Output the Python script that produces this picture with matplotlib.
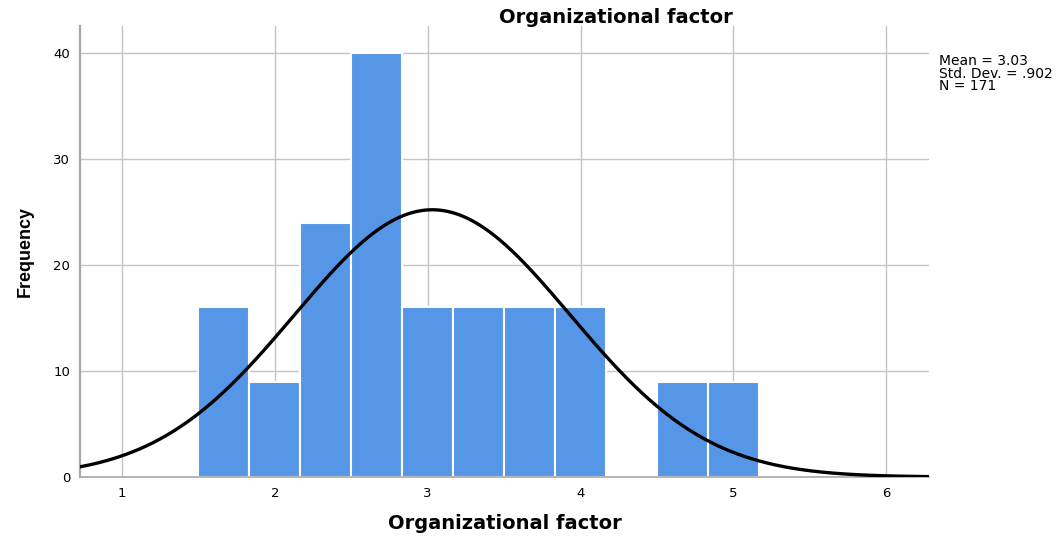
import numpy as np
import matplotlib.pyplot as plt

# Histogram of the organizational factor scores with a fitted normal curve
bin_edges = [1.5, 1.8333, 2.1667, 2.5, 2.8333, 3.1667, 3.5, 3.8333, 4.1667, 4.5, 4.8333, 5.1667]
counts = [16, 9, 24, 40, 16, 16, 16, 16, 0, 9, 9]
mean = 3.03
std_dev = 0.902
n = 171

plt.rcParams['font.family'] = ['DejaVu Sans']

fig = plt.figure(figsize=(10.57, 5.37), dpi=100)
ax = fig.add_axes([0.0757, 0.1117, 0.8032, 0.84])

edges = np.array(bin_edges)
widths = np.diff(edges)
ax.bar(edges[:-1], counts, width=widths, align='edge', color='#5596e6',
       edgecolor='white', linewidth=1.5, zorder=2)

# normal curve scaled to counts per bin
bw = widths.mean()
xs = np.linspace(0.725, 6.28, 400)
ys = n * bw * np.exp(-0.5 * ((xs - mean) / std_dev) ** 2) / (std_dev * np.sqrt(2 * np.pi))
ax.plot(xs, ys, color='black', linewidth=2.4, zorder=3)

ax.set_xlim(0.725, 6.28)
ax.set_ylim(0, 42.55)
ax.set_xticks([1, 2, 3, 4, 5, 6])
ax.set_yticks([0, 10, 20, 30, 40])
ax.tick_params(length=0, labelsize=9.5, pad=7)
ax.grid(True, color='#c4c4c4', linewidth=1.0, zorder=0)
ax.set_axisbelow(True)

for s in ['top', 'right']:
    ax.spines[s].set_visible(False)
ax.spines['left'].set_color('#a8a8a8')
ax.spines['left'].set_linewidth(1.6)
ax.spines['bottom'].set_color('#a8a8a8')
ax.spines['bottom'].set_linewidth(1.2)

ax.set_xlabel('Organizational factor', fontsize=14, fontweight='bold', labelpad=10)
ax.set_ylabel('Frequency', fontsize=13, fontweight='bold', labelpad=14,
              family=['Liberation Sans Narrow', 'Liberation Sans'])

fig.text(0.583, 0.968, 'Organizational factor', ha='center', va='center',
         fontsize=14, fontweight='bold')
fig.text(0.888, 0.863, 'Mean = 3.03\nStd. Dev. = .902\nN = 171', ha='left', va='center',
         fontsize=10, linespacing=0.9)

fig.savefig('out.png', dpi=100)
